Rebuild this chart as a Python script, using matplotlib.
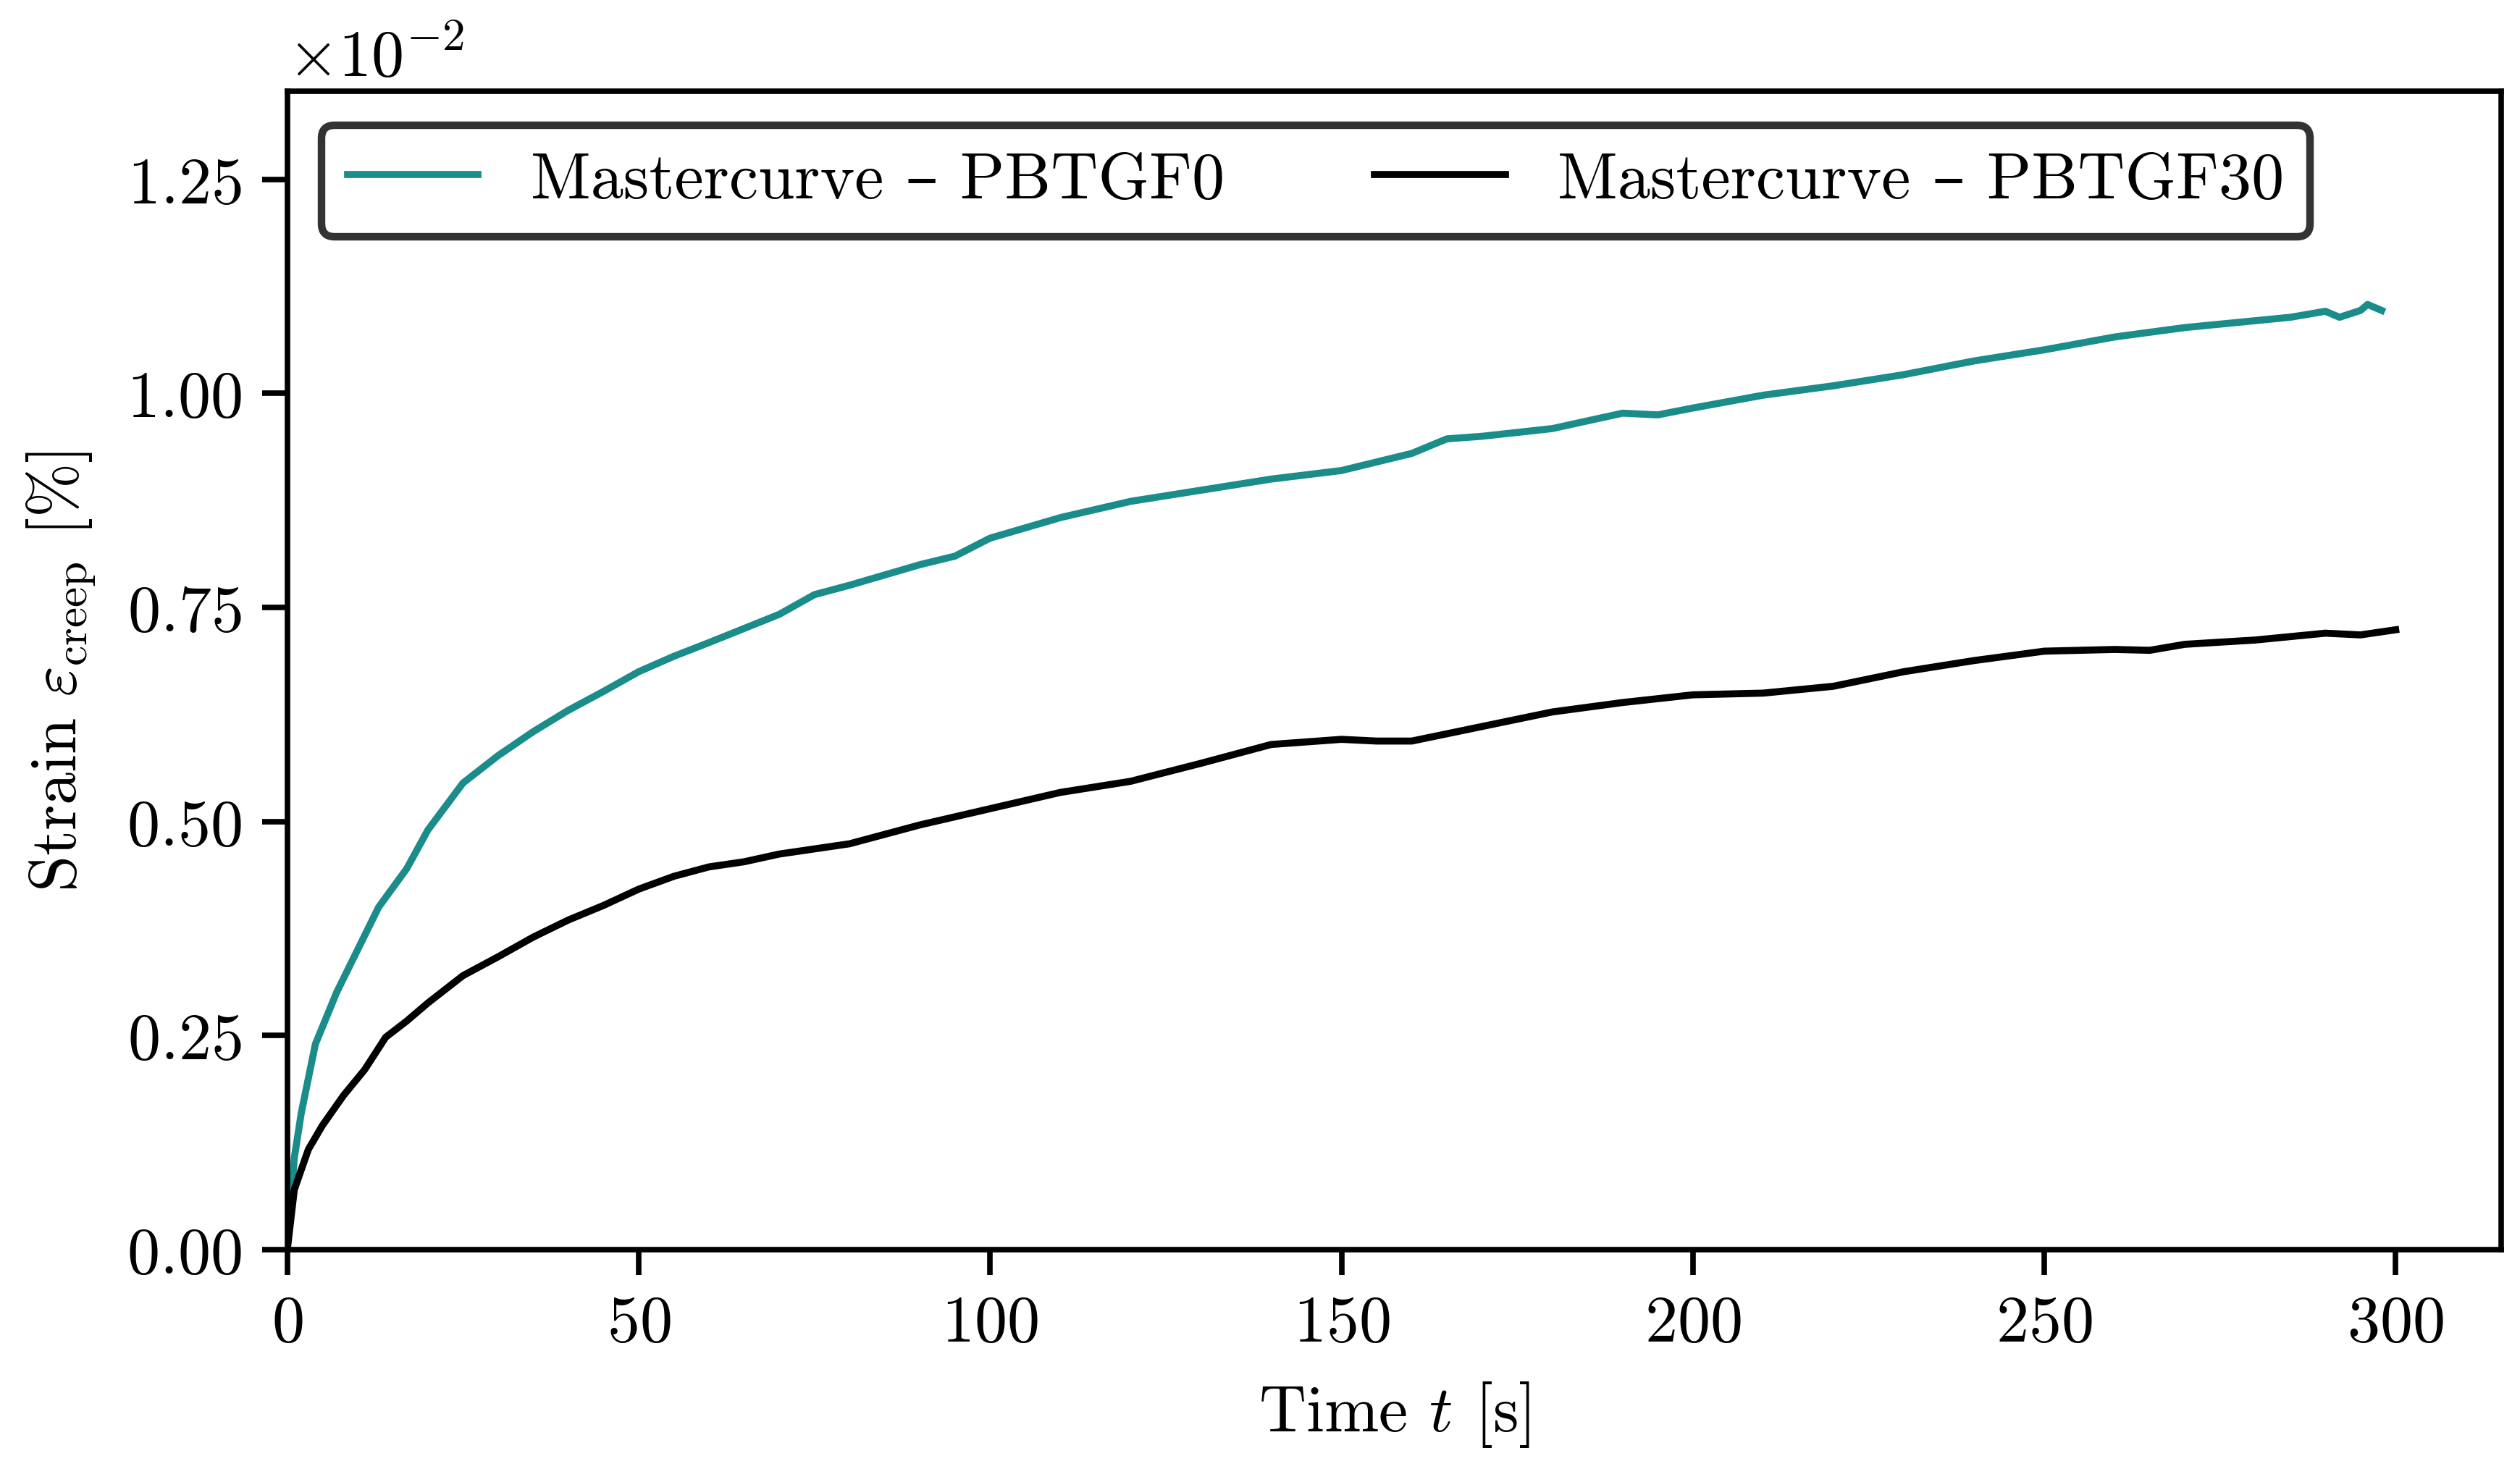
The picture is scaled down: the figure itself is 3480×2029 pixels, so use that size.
import numpy as np
import matplotlib
matplotlib.use('Agg')
import matplotlib.pyplot as plt
from matplotlib.ticker import ScalarFormatter

plt.rcParams['font.family'] = ['cmr10', 'DejaVu Serif']
plt.rcParams['mathtext.fontset'] = 'cm'
plt.rcParams['axes.formatter.use_mathtext'] = True
plt.rcParams['axes.unicode_minus'] = False

# (strain in units of 1e-2 %)
t_gf0 = [0, 1, 2, 4, 7, 10, 13, 17, 20, 25, 30, 35, 40, 45, 50, 55, 60, 70, 75,
         80, 90, 95, 100, 110, 120, 130, 140, 150, 160, 165, 170, 180, 190, 195,
         200, 210, 220, 230, 240, 250, 260, 270, 280, 285, 290, 292, 295, 296,
         298]
eps_gf0 = [0.0, 0.107, 0.16, 0.24, 0.30, 0.35, 0.40, 0.445, 0.49, 0.545, 0.577,
           0.605, 0.63, 0.652, 0.675, 0.693, 0.709, 0.742, 0.765, 0.776, 0.80,
           0.81, 0.831, 0.855, 0.874, 0.887, 0.90, 0.91, 0.93, 0.947, 0.95,
           0.959, 0.977, 0.975, 0.983, 0.998, 1.009, 1.022, 1.038, 1.051, 1.066,
           1.077, 1.085, 1.089, 1.096, 1.089, 1.097, 1.104, 1.097]

t_gf30 = [0, 1, 3, 5, 8, 11, 14, 17, 20, 25, 30, 35, 40, 45, 50, 55, 60, 65, 70,
          75, 80, 90, 100, 110, 120, 130, 140, 150, 155, 160, 170, 180, 190, 200,
          210, 220, 230, 240, 250, 260, 265, 270, 280, 290, 295, 300]
eps_gf30 = [0.0, 0.07, 0.117, 0.145, 0.18, 0.21, 0.248, 0.267, 0.288, 0.32, 0.342,
            0.365, 0.385, 0.402, 0.421, 0.436, 0.447, 0.453, 0.462, 0.468, 0.474,
            0.496, 0.515, 0.534, 0.547, 0.568, 0.59, 0.596, 0.594, 0.594, 0.611,
            0.628, 0.639, 0.648, 0.65, 0.658, 0.675, 0.688, 0.699, 0.701, 0.700,
            0.707, 0.712, 0.72, 0.718, 0.724]

labels = ['Mastercurve – PBTGF0', 'Mastercurve – PBTGF30']

fig = plt.figure(figsize=(6.96, 4.06), dpi=500)
ax = fig.add_axes([0.114, 0.1493, 0.8785, 0.7881])

ax.plot(t_gf0, np.array(eps_gf0) * 1e-2, color='#1a8c8a', lw=1.4, label=labels[0])
ax.plot(t_gf30, np.array(eps_gf30) * 1e-2, color='black', lw=1.4, label=labels[1])

ax.set_xlim(0, 315)
ax.set_ylim(0, 1.353e-2)
ax.set_yticks(np.array([0, 0.25, 0.5, 0.75, 1.0, 1.25]) * 1e-2)
fmt = ScalarFormatter(useMathText=True)
fmt.set_powerlimits((-2, -2))
ax.yaxis.set_major_formatter(fmt)
ax.yaxis.get_offset_text().set_fontsize(13)

ax.set_xlabel('Time $t$ [s]', fontsize=13, labelpad=5)
ax.set_ylabel(r'Strain $\varepsilon_{\mathrm{creep}}$ [%]', fontsize=13, labelpad=6)
ax.tick_params(direction='out', length=5, width=1.1, labelsize=13, pad=4)
for s in ax.spines.values():
    s.set_linewidth(1.1)

leg = ax.legend(loc='upper left', ncol=2, fontsize=13, frameon=True,
                fancybox=True, framealpha=1, edgecolor='#333333',
                columnspacing=2.3, borderaxespad=0.52)
leg.get_frame().set_linewidth(1.5)

fig.savefig('out.png', dpi=500)
